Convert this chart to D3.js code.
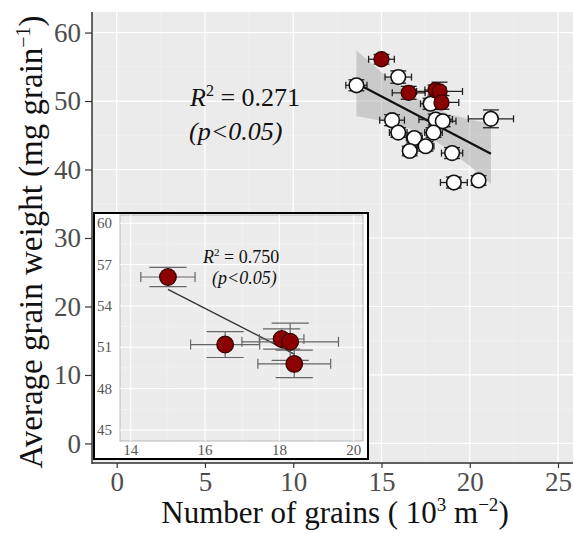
<!DOCTYPE html>
<html>
<head>
<meta charset="utf-8">
<script src="https://cdn.jsdelivr.net/npm/d3@7"></script>
<style>
  body { margin: 0; background: #fff; }
  svg { display: block; font-family: "Liberation Serif", "Times New Roman", serif; }
</style>
</head>
<body>
<div id="chart"></div>
<script>
// open circles: all sites
const whiteX    = [13.58, 15.95, 17.78, 15.6, 18.07, 18.47, 21.2, 15.95, 17.95, 16.86, 17.5, 16.6, 19.0, 19.1, 20.5]
const whiteY    = [52.3, 53.5, 49.6, 47.2, 47.3, 47.05, 47.4, 45.4, 45.4, 44.6, 43.4, 42.7, 42.4, 38.1, 38.4]
const whiteXErr = [0.6, 0.75, 0.57, 0.7, 0.95, 0.75, 1.28, 0.5, 0.5, 0.45, 0.47, 0.4, 0.6, 0.76, 0.3]
const whiteYErr = [0.8, 0.9, 0.8, 0.8, 0.8, 0.8, 1.3, 0.7, 0.7, 0.7, 0.7, 0.7, 0.8, 0.8, 0.7]

// filled circles (also shown in the inset)
const redX    = [15.0, 16.54, 18.06, 18.29, 18.4]
const redY    = [56.1, 51.2, 51.6, 51.4, 49.8]
const redXErr = [0.73, 0.93, 0.6, 1.3, 0.98]
const redYErr = [0.7, 0.94, 0.73, 1.35, 1.0]

// main fit line and its confidence band
const fitX = [13.58, 21.2]
const fitY = [52.6, 42.3]
const bandX  = [13.58, 15.0, 16.4, 17.6, 18.8, 20.0, 21.2]
const bandHi = [57.37, 54.23, 51.4, 49.45, 48.15, 47.29, 46.66]
const bandLo = [47.83, 47.13, 46.16, 44.85, 42.91, 40.51, 37.88]

// inset fit line
const insetFitX = [15.0, 18.4]
const insetFitY = [55.2, 50.5]

const xTicks = [0, 5, 10, 15, 20, 25]
const yTicks = [0, 10, 20, 30, 40, 50, 60]
const insetXTicks = [14, 16, 18, 20]
const insetYTicks = [45, 48, 51, 54, 57, 60]

const width = 573, height = 534

const svg = d3.select("#chart").append("svg")
    .attr("width", width)
    .attr("height", height)

const x = d3.scaleLinear().domain([-1.4, 25.85]).range([92, 573])
const y = d3.scaleLinear().domain([-3, 63]).range([464, 12])

// ---------- main panel ----------
svg.append("rect")
    .attr("x", x.range()[0]).attr("y", y.range()[1])
    .attr("width", x.range()[1] - x.range()[0])
    .attr("height", y.range()[0] - y.range()[1])
    .attr("fill", "#ebebeb")

const minorX = d3.range(-2.5, 27.5, 5), minorY = d3.range(-5, 65, 10)
const grid = svg.append("g")
grid.selectAll(".mx").data(minorX.filter(d => x(d) > 92)).join("line")
    .attr("x1", x).attr("x2", x).attr("y1", y.range()[1]).attr("y2", y.range()[0])
    .attr("stroke", "#f5f5f5").attr("stroke-width", 0.6)
grid.selectAll(".my").data(minorY.filter(d => y(d) < 464)).join("line")
    .attr("y1", y).attr("y2", y).attr("x1", x.range()[0]).attr("x2", x.range()[1])
    .attr("stroke", "#f5f5f5").attr("stroke-width", 0.6)
grid.selectAll(".Mx").data(xTicks).join("line")
    .attr("x1", x).attr("x2", x).attr("y1", y.range()[1]).attr("y2", y.range()[0])
    .attr("stroke", "#fff").attr("stroke-width", 1.2)
grid.selectAll(".My").data(yTicks).join("line")
    .attr("y1", y).attr("y2", y).attr("x1", x.range()[0]).attr("x2", x.range()[1])
    .attr("stroke", "#fff").attr("stroke-width", 1.2)

// band + fit
const bandArea = d3.area()
    .x((d, i) => x(bandX[i]))
    .y0((d, i) => y(bandLo[i]))
    .y1((d, i) => y(bandHi[i]))
svg.append("path")
    .attr("d", bandArea(bandX))
    .attr("fill", "#999").attr("fill-opacity", 0.4)

svg.append("path")
    .attr("d", d3.line().x((d, i) => x(fitX[i])).y((d, i) => y(fitY[i]))(fitX))
    .attr("fill", "none").attr("stroke", "#111").attr("stroke-width", 2.2)

function errorBars(g, xs, ys, xe, ye, sx, sy, opt) {
  const eg = g.append("g").attr("stroke", opt.color).attr("stroke-width", opt.sw).attr("fill", "none")
  xs.forEach((xv, i) => {
    const cx = sx(xv), cy = sy(ys[i])
    const x0 = sx(xv - xe[i]), x1 = sx(xv + xe[i])
    const y0 = sy(ys[i] - ye[i]), y1 = sy(ys[i] + ye[i])
    const hw = sx(xv + opt.capX) - cx
    eg.append("line").attr("x1", x0).attr("x2", x1).attr("y1", cy).attr("y2", cy)
    eg.append("line").attr("x1", x0).attr("x2", x0).attr("y1", cy - opt.capY).attr("y2", cy + opt.capY)
    eg.append("line").attr("x1", x1).attr("x2", x1).attr("y1", cy - opt.capY).attr("y2", cy + opt.capY)
    eg.append("line").attr("x1", cx).attr("x2", cx).attr("y1", y0).attr("y2", y1)
    eg.append("line").attr("x1", cx - hw).attr("x2", cx + hw).attr("y1", y0).attr("y2", y0)
    eg.append("line").attr("x1", cx - hw).attr("x2", cx + hw).attr("y1", y1).attr("y2", y1)
  })
}

const mainOpt = {color: "#222", sw: 1.3, capX: 0.45, capY: 3.5}
errorBars(svg, whiteX, whiteY, whiteXErr, whiteYErr, x, y, mainOpt)
errorBars(svg, redX, redY, redXErr, redYErr, x, y, mainOpt)

svg.append("g").selectAll("circle").data(whiteX).join("circle")
    .attr("cx", d => x(d)).attr("cy", (d, i) => y(whiteY[i])).attr("r", 7.3)
    .attr("fill", "#fff").attr("stroke", "#111").attr("stroke-width", 1.6)
svg.append("g").selectAll("circle").data(redX).join("circle")
    .attr("cx", d => x(d)).attr("cy", (d, i) => y(redY[i])).attr("r", 7.5)
    .attr("fill", "#8b0000").attr("stroke", "#3a0000").attr("stroke-width", 1.3)

// axes
const xAxis = svg.append("g")
    .attr("transform", `translate(0,${y.range()[0] - 1})`)
    .call(d3.axisBottom(x).tickValues(xTicks).tickSize(5).tickPadding(4))
xAxis.select(".domain").attr("d", `M${x.range()[0]},0H${x.range()[1]}`).attr("stroke", "#333").attr("stroke-width", 1.5)
xAxis.selectAll(".tick line").attr("stroke", "#333").attr("stroke-width", 1.2)
xAxis.selectAll("text").attr("font-size", 27).attr("fill", "#4d4d4d").attr("font-family", "Liberation Serif")

const yAxis = svg.append("g")
    .attr("transform", `translate(${x.range()[0]},0)`)
    .call(d3.axisLeft(y).tickValues(yTicks).tickSize(7).tickPadding(4))
yAxis.select(".domain").attr("d", `M0,${y.range()[1]}V${y.range()[0]}`).attr("stroke", "#333").attr("stroke-width", 1.5)
yAxis.selectAll(".tick line").attr("stroke", "#333").attr("stroke-width", 1.2)
yAxis.selectAll("text").attr("font-size", 27).attr("fill", "#4d4d4d").attr("font-family", "Liberation Serif")

// annotation
const ann = svg.append("text").attr("x", 190).attr("y", 106).attr("font-size", 26).attr("fill", "#111")
ann.append("tspan").attr("font-style", "italic").text("R")
ann.append("tspan").attr("dy", -10).attr("font-size", 16).text("2")
ann.append("tspan").attr("dy", 10).text(" = 0.271")
svg.append("text").attr("x", 189).attr("y", 140).attr("font-size", 26)
    .attr("font-style", "italic").attr("fill", "#111").text("(p<0.05)")

// axis titles
const xt = svg.append("text").attr("x", 335).attr("y", 523).attr("text-anchor", "middle")
    .attr("font-size", 31).attr("fill", "#111")
xt.append("tspan").text("Number of grains ( 10")
xt.append("tspan").attr("dy", -12).attr("font-size", 19).text("3")
xt.append("tspan").attr("dy", 12).text(" m")
xt.append("tspan").attr("dy", -12).attr("font-size", 19).text("\u22122")
xt.append("tspan").attr("dy", 12).text(")")

const yt = svg.append("text").attr("transform", "translate(42,242) rotate(-90)")
    .attr("text-anchor", "middle").attr("font-size", 33).attr("fill", "#111")
yt.append("tspan").text("Average grain weight (mg grain")
yt.append("tspan").attr("dy", -12).attr("font-size", 20).text("\u22121")
yt.append("tspan").attr("dy", 12).text(")")

// ---------- inset ----------
const inset = svg.append("g")
inset.append("rect").attr("x", 94).attr("y", 213).attr("width", 274).attr("height", 246)
    .attr("fill", "#fff").attr("stroke", "#000").attr("stroke-width", 2)

const ix = d3.scaleLinear().domain([13.71, 20.25]).range([120, 363])
const iy = d3.scaleLinear().domain([44.2, 60.6]).range([441, 215])

inset.append("rect").attr("x", 120).attr("y", 215).attr("width", 243).attr("height", 226)
    .attr("fill", "#ececec").attr("stroke", "#aaa").attr("stroke-width", 0.8)
const ig = inset.append("g")
ig.selectAll(".mx").data(d3.range(13, 21, 2).filter(d => ix(d) > 120)).join("line")
    .attr("x1", ix).attr("x2", ix).attr("y1", 215).attr("y2", 441)
    .attr("stroke", "#f6f6f6").attr("stroke-width", 0.5)
ig.selectAll(".my").data(d3.range(46.5, 60, 3)).join("line")
    .attr("y1", iy).attr("y2", iy).attr("x1", 120).attr("x2", 363)
    .attr("stroke", "#f6f6f6").attr("stroke-width", 0.5)
ig.selectAll(".Mx").data(insetXTicks).join("line")
    .attr("x1", ix).attr("x2", ix).attr("y1", 215).attr("y2", 441)
    .attr("stroke", "#fff").attr("stroke-width", 1)
ig.selectAll(".My").data(insetYTicks).join("line")
    .attr("y1", iy).attr("y2", iy).attr("x1", 120).attr("x2", 363)
    .attr("stroke", "#fff").attr("stroke-width", 1)

inset.append("path")
    .attr("d", d3.line().x((d, i) => ix(insetFitX[i])).y((d, i) => iy(insetFitY[i]))(insetFitX))
    .attr("stroke", "#333").attr("stroke-width", 1.3)

errorBars(inset, redX, redY, redXErr, redYErr, ix, iy, {color: "#666", sw: 1.2, capX: 0.5, capY: 5})

inset.append("g").selectAll("circle").data(redX).join("circle")
    .attr("cx", d => ix(d)).attr("cy", (d, i) => iy(redY[i])).attr("r", 8.3)
    .attr("fill", "#8b0000").attr("stroke", "#3a0000").attr("stroke-width", 1.3)

inset.append("g").selectAll("text").data(insetXTicks).join("text")
    .attr("x", d => ix(d)).attr("y", 455).attr("text-anchor", "middle")
    .attr("font-size", 15).attr("fill", "#555").text(d => d)
inset.append("g").selectAll("text").data(insetYTicks).join("text")
    .attr("x", 112).attr("y", d => iy(d) + 5).attr("text-anchor", "end")
    .attr("font-size", 15).attr("fill", "#555").text(d => d)

const ia = inset.append("text").attr("x", 203).attr("y", 263).attr("font-size", 18).attr("fill", "#111")
ia.append("tspan").attr("font-style", "italic").text("R")
ia.append("tspan").attr("dy", -7).attr("font-size", 11).text("2")
ia.append("tspan").attr("dy", 7).text(" = 0.750")
inset.append("text").attr("x", 212).attr("y", 284).attr("font-size", 18)
    .attr("font-style", "italic").attr("fill", "#111").text("(p<0.05)")
</script>
</body>
</html>
